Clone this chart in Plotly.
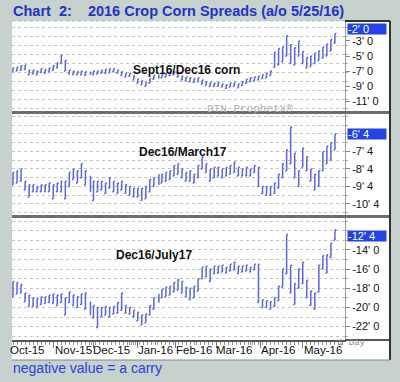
import pandas as pd
import plotly.graph_objects as go

# ---------------- data ----------------
holidays = ["2015-11-26", "2015-12-25", "2016-01-01", "2016-01-18", "2016-02-15", "2016-03-25"]
trading_days = pd.bdate_range("2015-10-05", "2016-05-25")
trading_days = trading_days[~trading_days.isin(pd.to_datetime(holidays))]
dates = trading_days[::2]

month_labels = ["Oct-15", "Nov-15", "Dec-15", "Jan-16", "Feb-16", "Mar-16", "Apr-16", "May-16"]
month_label_dates = ["2015-10-14", "2015-11-16", "2015-12-14", "2016-01-15",
                     "2016-02-12", "2016-03-14", "2016-04-14", "2016-05-16"]

sep_dec_high = [-6.6, -6.5, -6.3, -6.2, -6.9, -6.9, -7.0, -6.7, -6.8, -6.6,
                -6.3, -5.9, -4.9, -5.6, -6.9, -7.0, -7.1, -7.0, -7.1, -7.1,
                -7.0, -7.0, -6.9, -6.8, -6.7, -6.7, -6.9, -7.1, -7.3, -7.3,
                -7.6, -8.1, -8.3, -8.5, -8.0, -7.6, -7.5, -7.5, -7.3, -7.1,
                -7.1, -7.3, -7.7, -7.8, -7.9, -8.0, -7.9, -8.2, -8.4, -8.5,
                -8.6, -8.5, -8.7, -8.8, -8.6, -8.5, -8.7, -8.4, -8.1, -7.9,
                -7.8, -7.7, -7.5, -7.3, -7.0, -4.5, -4.0, -3.8, -2.3, -3.5,
                -3.9, -3.0, -4.4, -5.2, -5.0, -4.6, -4.3, -3.8, -3.4, -2.8,
                -2.0]
sep_dec_low = [-7.1, -7.0, -6.9, -6.8, -7.5, -7.4, -7.5, -7.2, -7.3, -7.1,
               -6.9, -6.6, -6.0, -7.0, -7.4, -7.5, -7.5, -7.5, -7.6, -7.5,
               -7.5, -7.4, -7.3, -7.3, -7.2, -7.1, -7.3, -7.6, -7.8, -7.7,
               -8.2, -8.6, -8.8, -9.0, -8.6, -8.1, -8.0, -7.9, -7.8, -7.6,
               -7.5, -7.8, -8.2, -8.3, -8.4, -8.5, -8.4, -8.7, -8.9, -9.0,
               -9.0, -9.0, -9.1, -9.3, -9.1, -9.0, -9.2, -8.9, -8.6, -8.4,
               -8.3, -8.2, -8.0, -7.9, -7.6, -6.5, -6.2, -5.8, -5.0, -6.0,
               -6.2, -5.0, -6.0, -6.6, -6.4, -6.0, -5.6, -5.3, -5.0, -4.3,
               -3.3]

dec_mar_high = [-8.7, -8.6, -8.5, -9.2, -9.4, -9.4, -9.5, -9.4, -9.4, -9.3,
                -9.4, -9.3, -9.2, -9.2, -8.7, -8.5, -8.6, -8.2, -8.6, -8.9,
                -9.2, -9.2, -9.2, -9.3, -9.0, -9.2, -9.3, -9.2, -9.4, -9.5,
                -9.6, -9.6, -9.6, -9.5, -9.1, -9.0, -8.8, -8.8, -8.7, -8.6,
                -8.3, -8.2, -8.5, -8.7, -8.6, -8.8, -8.3, -7.8, -8.2, -8.5,
                -8.4, -8.4, -8.5, -8.4, -8.3, -8.1, -8.4, -8.5, -8.4, -8.5,
                -8.3, -8.4, -9.5, -9.5, -9.5, -9.3, -8.8, -8.2, -7.4, -6.1,
                -7.6, -8.6, -7.3, -7.8, -8.5, -8.8, -8.6, -7.5, -7.2, -7.0,
                -6.5]
dec_mar_low = [-9.4, -9.3, -9.2, -9.7, -10.1, -9.8, -9.8, -9.8, -9.8, -9.8,
               -10.2, -9.8, -9.8, -10.2, -9.5, -9.1, -9.3, -9.0, -9.4, -9.8,
               -10.3, -9.8, -9.7, -9.9, -9.6, -9.8, -9.9, -9.7, -9.9, -10.0,
               -10.1, -10.1, -10.3, -10.2, -9.8, -9.5, -9.4, -9.3, -9.2, -9.1,
               -8.9, -8.8, -9.0, -9.2, -9.2, -9.3, -9.0, -8.5, -8.7, -9.2,
               -9.0, -8.9, -9.0, -8.9, -8.8, -8.7, -8.9, -8.9, -8.9, -8.9,
               -8.7, -9.5, -9.9, -10.0, -10.0, -9.9, -9.6, -9.0, -8.6, -8.2,
               -9.0, -9.5, -8.4, -8.6, -9.2, -9.7, -9.5, -8.6, -8.2, -8.0,
               -7.4]

dec_jul_high = [-17.3, -17.4, -17.6, -18.5, -18.7, -19.0, -19.1, -18.9, -18.9, -18.7,
                -18.6, -18.7, -18.6, -19.0, -18.4, -18.7, -18.9, -18.6, -18.5, -19.4,
                -19.8, -20.0, -20.0, -19.9, -20.0, -19.9, -19.5, -18.5, -19.8, -20.0,
                -20.3, -20.5, -20.8, -20.7, -19.8, -19.0, -18.6, -18.1, -17.9, -17.8,
                -17.4, -17.1, -17.3, -17.9, -18.0, -17.8, -17.0, -15.8, -15.7, -16.0,
                -15.7, -15.7, -15.6, -15.8, -15.5, -15.3, -15.7, -15.7, -15.6, -15.8,
                -15.5, -15.5, -19.2, -19.3, -19.4, -19.0, -17.8, -16.0, -12.4, -15.6,
                -17.5, -16.0, -15.3, -17.2, -18.3, -18.5, -15.6, -14.6, -14.5, -13.3,
                -11.9]
dec_jul_low = [-18.9, -18.6, -18.5, -19.4, -19.9, -19.9, -20.0, -19.7, -19.6, -19.5,
               -19.6, -19.8, -19.5, -20.8, -19.5, -19.8, -20.0, -19.7, -20.2, -20.8,
               -21.1, -22.1, -21.0, -20.8, -21.0, -20.7, -20.6, -20.3, -20.6, -20.7,
               -21.0, -21.4, -21.8, -21.6, -20.8, -20.2, -19.5, -19.0, -18.9, -18.7,
               -18.4, -18.2, -18.5, -18.9, -19.2, -19.0, -18.3, -17.0, -16.8, -17.3,
               -16.5, -16.4, -16.3, -16.4, -16.2, -16.1, -16.5, -16.3, -16.2, -16.3,
               -16.1, -19.5, -20.0, -20.0, -20.2, -19.9, -19.3, -17.9, -16.5, -18.5,
               -19.7, -18.0, -17.5, -19.0, -19.8, -20.2, -18.4, -16.0, -16.4, -14.8,
               -13.0]

panel_names = ["Sept16/Dec16 corn", "Dec16/March17", "Dec16/July17"]
last_values = [-1.4, -6.5, -12.5]
last_labels = ["-2' 0", "-6' 4", "-12' 4"]

p1_tickvals = [-3, -5, -7, -9, -11]
p1_ticktext = ["-3' 0", "-5' 0", "-7' 0", "-9' 0", "-11' 0"]
p2_tickvals = [-7.5, -8.5, -9.5, -10.5]
p2_ticktext = ["-7' 4", "-8' 4", "-9' 4", "-10' 4"]
p3_tickvals = [-14, -16, -18, -20, -22]
p3_ticktext = ["-14' 0", "-16' 0", "-18' 0", "-20' 0", "-22' 0"]

# ---------------- figure ----------------
BAR = "#5a66da"
FONT = "Liberation Sans, Arial, sans-serif"
fig = go.Figure()

series = [(sep_dec_high, sep_dec_low, "y"), (dec_mar_high, dec_mar_low, "y2"), (dec_jul_high, dec_jul_low, "y3")]
for hi, lo, ya in series:
    fig.add_trace(go.Ohlc(x=dates, open=lo, high=hi, low=lo, close=hi,
                          xaxis="x", yaxis=ya, tickwidth=0.35,
                          increasing=dict(line=dict(color=BAR, width=1.5)),
                          decreasing=dict(line=dict(color=BAR, width=1.5)),
                          showlegend=False, hoverinfo="skip"))

XD = (345 - 12) / 378
def ydom(top, bot):
    return [(360 - bot) / 339, (360 - top) / 339]

def yax(dom, rng, tv, tt, minor_dt, tick0):
    return dict(domain=dom, range=rng, anchor="x", side="right", automargin=False,
                tickmode="array", tickvals=tv, ticktext=tt,
                ticks="outside", ticklen=4, tickcolor="#888",
                tickfont=dict(family=FONT, size=11, color="#111"),
                showgrid=False, zeroline=False,
                showline=True, linecolor="#999", linewidth=1,
                minor=dict(tickmode="linear", dtick=minor_dt, tick0=tick0, ticks="outside",
                           ticklen=2, tickcolor="#aaa", showgrid=True,
                           gridcolor="#c4c4c4", griddash="dot", gridwidth=1))

fig.update_layout(
    width=400, height=382,
    margin=dict(l=12, r=10, t=21, b=22, autoexpand=False),
    paper_bgcolor="#c7d1ce", plot_bgcolor="white",
    xaxis=dict(domain=[0, XD], anchor="y3", type="date", automargin=False,
               range=["2015-10-02 12:00", "2016-05-31"],
               rangebreaks=[dict(bounds=["sat", "mon"]), dict(values=holidays)],
               rangeslider=dict(visible=False),
               dtick="M1", tick0="2015-10-01", showticklabels=False,
               ticks="outside", ticklen=6, tickcolor="#777",
               showgrid=False, showline=True, linecolor="#555", linewidth=2,
               minor=dict(ticks="outside", ticklen=3, tickcolor="#999", dtick=2 * 86400000,
                          tick0="2015-10-05")),
    yaxis=yax(ydom(21, 111), [-12.3, -0.35], p1_tickvals, p1_ticktext, 1.2, 0),
    yaxis2=yax(ydom(114, 215), [-11.13, -5.36], p2_tickvals, p2_ticktext, 0.5, 0),
    yaxis3=yax(ydom(218, 340), [-23.4, -10.67], p3_tickvals, p3_ticktext, 1.0, 0),
)

shapes = [
    dict(type="rect", xref="paper", yref="paper", x0=0, x1=1, y0=0, y1=1,
         fillcolor="white", line=dict(width=0), layer="below"),
    dict(type="line", xref="paper", yref="paper", x0=0, x1=1, y0=(360 - 112.5) / 339, y1=(360 - 112.5) / 339,
         line=dict(color="#6d6d6d", width=3)),
    dict(type="line", xref="paper", yref="paper", x0=0, x1=1, y0=(360 - 216.5) / 339, y1=(360 - 216.5) / 339,
         line=dict(color="#6d6d6d", width=3)),
    dict(type="line", xref="paper", yref="paper", x0=XD, x1=1, y0=(360 - 340) / 339, y1=(360 - 340) / 339,
         line=dict(color="#555", width=2)),
    dict(type="line", xref="paper", yref="paper", x0=1, x1=1, y0=0, y1=1,
         line=dict(color="#333", width=2)),
    dict(type="line", xref="paper", yref="paper", x0=XD, x1=1, y0=1, y1=1,
         line=dict(color="#333", width=2)),
    dict(type="line", xref="paper", yref="paper", x0=0, x1=XD, y0=1, y1=1,
         line=dict(color="#bbb", width=1, dash="dot")),
    dict(type="line", xref="paper", yref="paper", x0=0, x1=1, y0=0, y1=0,
         line=dict(color="#888", width=1)),
]
fig.update_layout(shapes=shapes)

ann = [
    dict(text="<b>Chart  2:    2016 Crop Corn Spreads (a/o 5/25/16)</b>", xref="paper", yref="paper",
         x=-0.003, y=(360 - 11) / 339, xanchor="left", yanchor="middle", showarrow=False,
         font=dict(family=FONT, size=14.5, color="#1e34c8")),
    dict(text="negative value = a carry", xref="paper", yref="paper",
         x=-0.003, y=(360 - 368) / 339, xanchor="left", yanchor="middle", showarrow=False,
         font=dict(family=FONT, size=14, color="#2b40e0")),
    dict(text="<b>" + panel_names[0] + "</b>", xref="paper", yref="paper",
         x=(186 - 12) / 378, y=(360 - 61) / 339, showarrow=False,
         font=dict(family=FONT, size=12, color="#111")),
    dict(text="<b>" + panel_names[1] + "</b>", xref="paper", yref="paper",
         x=(183 - 12) / 378, y=(360 - 152) / 339, showarrow=False,
         font=dict(family=FONT, size=12, color="#111")),
    dict(text="<b>" + panel_names[2] + "</b>", xref="paper", yref="paper",
         x=(154 - 12) / 378, y=(360 - 264) / 339, showarrow=False,
         font=dict(family=FONT, size=12, color="#111")),
    dict(text="DTN ProphetX®", xref="paper", yref="paper",
         x=(295 - 12) / 378, y=(360 - 101) / 339, showarrow=False,
         font=dict(family="Liberation Mono, DejaVu Sans Mono, monospace", size=11, color="#b0b0b0")),
    dict(text="1 Day", xref="paper", yref="paper",
         x=(368 - 12) / 378, y=(360 - 350) / 339, showarrow=False,
         font=dict(family="Liberation Mono, DejaVu Sans Mono, monospace", size=9, color="#888")),
]
for lab, d in zip(month_labels, month_label_dates):
    ann.append(dict(text=lab, xref="x", yref="paper", x=d, y=(360 - 350) / 339,
                    showarrow=False, xanchor="center", yanchor="middle",
                    font=dict(family=FONT, size=11.5, color="#111")))
for val, lab, yr in zip(last_values, last_labels, ["y", "y2", "y3"]):
    ann.append(dict(text=lab, xref="paper", yref=yr, x=(347 - 12) / 378, y=val,
                    xanchor="left", yanchor="middle", showarrow=False, align="left",
                    width=38, height=10, bgcolor="#2243e6", borderpad=0,
                    font=dict(family=FONT, size=11, color="white")))
fig.update_layout(annotations=ann)

fig.write_html("out.html", config={"displayModeBar": False},
               post_script="document.body.style.margin='0px';")
